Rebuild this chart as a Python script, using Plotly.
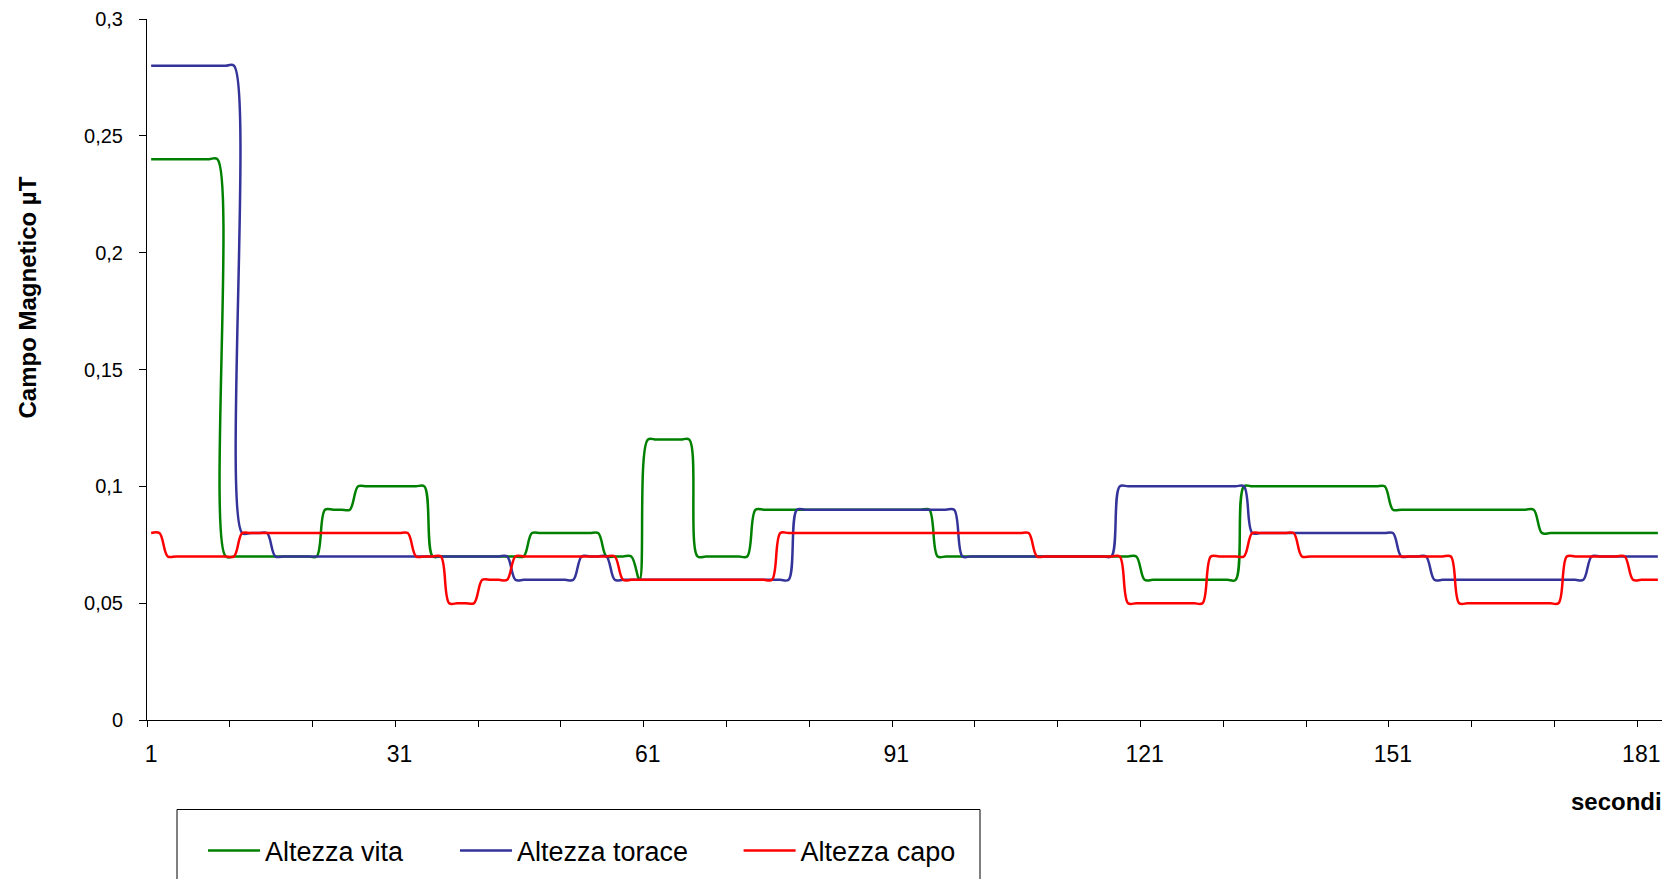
import plotly.graph_objects as go

# ---------------- data ----------------
secondi = list(range(1, 184))
x_tick_vals = [1, 31, 61, 91, 121, 151, 181]
x_minor_ticks = [0.5, 10.5, 20.5, 30.5, 40.5, 50.5, 60.5, 70.5, 80.5, 90.5,
                 100.5, 110.5, 120.5, 130.5, 140.5, 150.5, 160.5, 170.5, 180.5]
y_tick_vals = [0, 0.05, 0.1, 0.15, 0.2, 0.25, 0.3]
y_tick_text = ["0", "0,05", "0,1", "0,15", "0,2", "0,25", "0,3"]

altezza_vita = [
    0.24, 0.24, 0.24, 0.24, 0.24, 0.24, 0.24, 0.24, 0.24,              # 1-9
    0.07, 0.07, 0.07, 0.07, 0.07, 0.07, 0.07, 0.07, 0.07, 0.07,        # 10-19
    0.07, 0.07,                                                        # 20-21
    0.09, 0.09, 0.09, 0.09,                                            # 22-25
    0.10, 0.10, 0.10, 0.10, 0.10, 0.10, 0.10, 0.10, 0.10,              # 26-34
    0.07, 0.07, 0.07, 0.07, 0.07, 0.07, 0.07, 0.07, 0.07, 0.07,        # 35-44
    0.07, 0.07,                                                        # 45-46
    0.08, 0.08, 0.08, 0.08, 0.08, 0.08, 0.08, 0.08, 0.08,              # 47-55
    0.07, 0.07, 0.07, 0.07,                                            # 56-59
    0.06,                                                              # 60
    0.12, 0.12, 0.12, 0.12, 0.12, 0.12,                                # 61-66
    0.07, 0.07, 0.07, 0.07, 0.07, 0.07, 0.07,                          # 67-73
    0.09, 0.09, 0.09, 0.09, 0.09, 0.09, 0.09, 0.09, 0.09, 0.09,        # 74-83
    0.09, 0.09, 0.09, 0.09, 0.09, 0.09, 0.09, 0.09, 0.09, 0.09,        # 84-93
    0.09, 0.09,                                                        # 94-95
    0.07, 0.07, 0.07, 0.07, 0.07, 0.07, 0.07, 0.07, 0.07, 0.07,        # 96-105
    0.07, 0.07, 0.07, 0.07, 0.07, 0.07, 0.07, 0.07, 0.07, 0.07,        # 106-115
    0.07, 0.07, 0.07, 0.07, 0.07,                                      # 116-120
    0.06, 0.06, 0.06, 0.06, 0.06, 0.06, 0.06, 0.06, 0.06, 0.06,        # 121-130
    0.06, 0.06,                                                        # 131-132
    0.10, 0.10, 0.10, 0.10, 0.10, 0.10, 0.10, 0.10, 0.10, 0.10,        # 133-142
    0.10, 0.10, 0.10, 0.10, 0.10, 0.10, 0.10, 0.10,                    # 143-150
    0.09, 0.09, 0.09, 0.09, 0.09, 0.09, 0.09, 0.09, 0.09, 0.09,        # 151-160
    0.09, 0.09, 0.09, 0.09, 0.09, 0.09, 0.09, 0.09,                    # 161-168
    0.08, 0.08, 0.08, 0.08, 0.08, 0.08, 0.08, 0.08, 0.08, 0.08,        # 169-178
    0.08, 0.08, 0.08, 0.08, 0.08,                                      # 179-183
]

altezza_torace = [
    0.28, 0.28, 0.28, 0.28, 0.28, 0.28, 0.28, 0.28, 0.28, 0.28,        # 1-10
    0.28,                                                              # 11
    0.08, 0.08, 0.08, 0.08,                                            # 12-15
    0.07, 0.07, 0.07, 0.07, 0.07, 0.07, 0.07, 0.07, 0.07, 0.07,        # 16-25
    0.07, 0.07, 0.07, 0.07, 0.07, 0.07, 0.07, 0.07, 0.07, 0.07,        # 26-35
    0.07, 0.07, 0.07, 0.07, 0.07, 0.07, 0.07, 0.07, 0.07,              # 36-44
    0.06, 0.06, 0.06, 0.06, 0.06, 0.06, 0.06, 0.06,                    # 45-52
    0.07, 0.07, 0.07, 0.07,                                            # 53-56
    0.06, 0.06, 0.06, 0.06, 0.06, 0.06, 0.06, 0.06, 0.06, 0.06,        # 57-66
    0.06, 0.06, 0.06, 0.06, 0.06, 0.06, 0.06, 0.06, 0.06, 0.06,        # 67-76
    0.06, 0.06,                                                        # 77-78
    0.09, 0.09, 0.09, 0.09, 0.09, 0.09, 0.09, 0.09, 0.09, 0.09,        # 79-88
    0.09, 0.09, 0.09, 0.09, 0.09, 0.09, 0.09, 0.09, 0.09, 0.09,        # 89-98
    0.07, 0.07, 0.07, 0.07, 0.07, 0.07, 0.07, 0.07, 0.07, 0.07,        # 99-108
    0.07, 0.07, 0.07, 0.07, 0.07, 0.07, 0.07, 0.07, 0.07,              # 109-117
    0.10, 0.10, 0.10, 0.10, 0.10, 0.10, 0.10, 0.10, 0.10, 0.10,        # 118-127
    0.10, 0.10, 0.10, 0.10, 0.10, 0.10,                                # 128-133
    0.08, 0.08, 0.08, 0.08, 0.08, 0.08, 0.08, 0.08, 0.08, 0.08,        # 134-143
    0.08, 0.08, 0.08, 0.08, 0.08, 0.08, 0.08, 0.08,                    # 144-151
    0.07, 0.07, 0.07, 0.07,                                            # 152-155
    0.06, 0.06, 0.06, 0.06, 0.06, 0.06, 0.06, 0.06, 0.06, 0.06,        # 156-165
    0.06, 0.06, 0.06, 0.06, 0.06, 0.06, 0.06, 0.06, 0.06,              # 166-174
    0.07, 0.07, 0.07, 0.07, 0.07, 0.07, 0.07, 0.07, 0.07,              # 175-183
]

altezza_capo = [
    0.08, 0.08,                                                        # 1-2
    0.07, 0.07, 0.07, 0.07, 0.07, 0.07, 0.07, 0.07, 0.07,              # 3-11
    0.08, 0.08, 0.08, 0.08, 0.08, 0.08, 0.08, 0.08, 0.08, 0.08,        # 12-21
    0.08, 0.08, 0.08, 0.08, 0.08, 0.08, 0.08, 0.08, 0.08, 0.08,        # 22-31
    0.08,                                                              # 32
    0.07, 0.07, 0.07, 0.07,                                            # 33-36
    0.05, 0.05, 0.05, 0.05,                                            # 37-40
    0.06, 0.06, 0.06, 0.06,                                            # 41-44
    0.07, 0.07, 0.07, 0.07, 0.07, 0.07, 0.07, 0.07, 0.07, 0.07,        # 45-54
    0.07, 0.07, 0.07,                                                  # 55-57
    0.06, 0.06, 0.06, 0.06, 0.06, 0.06, 0.06, 0.06, 0.06, 0.06,        # 58-67
    0.06, 0.06, 0.06, 0.06, 0.06, 0.06, 0.06, 0.06, 0.06,              # 68-76
    0.08, 0.08, 0.08, 0.08, 0.08, 0.08, 0.08, 0.08, 0.08, 0.08,        # 77-86
    0.08, 0.08, 0.08, 0.08, 0.08, 0.08, 0.08, 0.08, 0.08, 0.08,        # 87-96
    0.08, 0.08, 0.08, 0.08, 0.08, 0.08, 0.08, 0.08, 0.08, 0.08,        # 97-106
    0.08,                                                              # 107
    0.07, 0.07, 0.07, 0.07, 0.07, 0.07, 0.07, 0.07, 0.07, 0.07,        # 108-117
    0.07,                                                              # 118
    0.05, 0.05, 0.05, 0.05, 0.05, 0.05, 0.05, 0.05, 0.05, 0.05,        # 119-128
    0.07, 0.07, 0.07, 0.07, 0.07,                                      # 129-133
    0.08, 0.08, 0.08, 0.08, 0.08, 0.08,                                # 134-139
    0.07, 0.07, 0.07, 0.07, 0.07, 0.07, 0.07, 0.07, 0.07, 0.07,        # 140-149
    0.07, 0.07, 0.07, 0.07, 0.07, 0.07, 0.07, 0.07, 0.07,              # 150-158
    0.05, 0.05, 0.05, 0.05, 0.05, 0.05, 0.05, 0.05, 0.05, 0.05,        # 159-168
    0.05, 0.05, 0.05,                                                  # 169-171
    0.07, 0.07, 0.07, 0.07, 0.07, 0.07, 0.07, 0.07,                    # 172-179
    0.06, 0.06, 0.06, 0.06,                                            # 180-183
]

series_names = ["Altezza vita", "Altezza torace", "Altezza capo"]
series_colors = ["#008000", "#333399", "#FF0000"]

# ---------------- figure ----------------
FONT = "Liberation Sans, Arial, sans-serif"
PAGE_OFFSET = 8            # default body margin of the html page
W, H = 1675 - 2 * PAGE_OFFSET, 887 - 2 * PAGE_OFFSET
ML, MR, MT, MB = 139, 5, 11, 159
PW = W - ML - MR
PH = H - MT - MB


def sx(px):
    """screen x (px) -> paper x"""
    return (px - PAGE_OFFSET - ML) / PW


def sy(py):
    """screen y (px) -> paper y"""
    return (H - MB - (py - PAGE_OFFSET)) / PH


fig = go.Figure()
legend_ids = ["legend", "legend2", "legend3"]
for name, vals, color, lg in zip(series_names,
                                 [altezza_vita, altezza_torace, altezza_capo],
                                 series_colors, legend_ids):
    fig.add_trace(go.Scatter(
        x=secondi[:len(vals)], y=vals, name=name, mode="lines",
        line=dict(color=color, width=2.5, shape="spline", smoothing=1),
        legend=lg, hoverinfo="x+y+name",
    ))

legend_common = dict(
    orientation="h", xanchor="left", yanchor="middle",
    bgcolor="rgba(0,0,0,0)", borderwidth=0,
    font=dict(family=FONT, size=27, color="black"),
    itemwidth=52,
)
legend_left_screen = [203, 455, 738.6]
legend_y = sy(851)

fig.update_layout(
    width=W, height=H,
    margin=dict(l=ML, r=MR, t=MT, b=MB, autoexpand=False),
    paper_bgcolor="white", plot_bgcolor="white",
    font=dict(family=FONT, color="black"),
    showlegend=True,
    legend=dict(x=sx(legend_left_screen[0]), y=legend_y, **legend_common),
    legend2=dict(x=sx(legend_left_screen[1]), y=legend_y, **legend_common),
    legend3=dict(x=sx(legend_left_screen[2]), y=legend_y, **legend_common),
    xaxis=dict(
        range=[0.5, 183.5], showgrid=False, zeroline=False,
        showline=True, linecolor="black", linewidth=1,
        tickmode="array", tickvals=x_tick_vals,
        ticks="outside", ticklen=6, tickcolor="rgba(0,0,0,0)",
        ticklabelstandoff=7,
        tickfont=dict(family=FONT, size=23, color="black"),
        minor=dict(tickmode="array", tickvals=x_minor_ticks, ticks="outside",
                   ticklen=6, tickcolor="black", tickwidth=1, showgrid=False),
    ),
    yaxis=dict(
        range=[0, 0.3], showgrid=False, zeroline=False,
        showline=True, linecolor="black", linewidth=1,
        tickmode="array", tickvals=y_tick_vals, ticktext=y_tick_text,
        ticks="outside", ticklen=7, tickcolor="black", tickwidth=1,
        ticklabelstandoff=12, ticklabeloverflow="allow",
        tickfont=dict(family=FONT, size=20, color="black"),
    ),
    shapes=[dict(
        type="rect", xref="paper", yref="paper",
        x0=sx(177), x1=sx(980),
        y0=sy(809.5), y1=sy(920),
        line=dict(color="black", width=1), fillcolor="rgba(0,0,0,0)",
        layer="above",
    )],
    annotations=[
        dict(text="<b>Campo Magnetico µT</b>", xref="paper", yref="paper",
             x=sx(26.5), y=sy(298), textangle=-90,
             xanchor="center", yanchor="middle", showarrow=False,
             font=dict(family=FONT, size=24, color="black")),
        dict(text="<b>secondi</b>", xref="paper", yref="paper",
             x=sx(1664), y=sy(802),
             xanchor="right", yanchor="middle", showarrow=False,
             font=dict(family=FONT, size=24, color="black")),
    ],
)

fig.write_html("out.html")
